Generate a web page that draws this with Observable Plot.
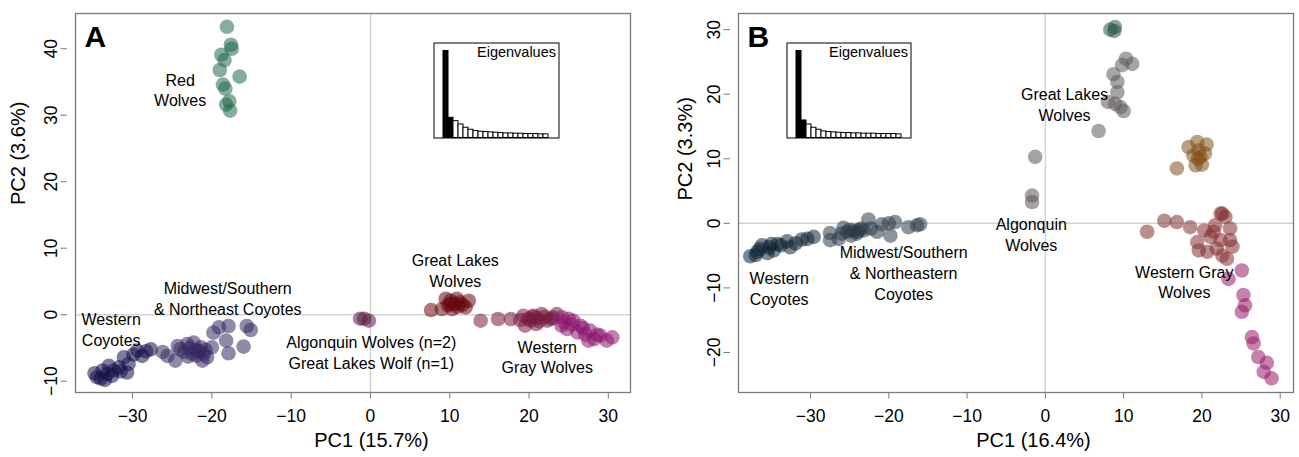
<!DOCTYPE html>
<html>
<head>
<meta charset="utf-8">
<script src="https://cdn.jsdelivr.net/npm/d3@7"></script>
<script src="https://cdn.jsdelivr.net/npm/@observablehq/plot@0.6"></script>
<style>
  body { margin: 0; background: #fff; }
  #wrap { position: relative; width: 1299px; height: 457px; font-family: "Liberation Sans", Arial, sans-serif; }
  .panel { position: absolute; top: 0; }
  .inset { position: absolute; }
</style>
</head>
<body>
<div id="wrap"></div>
<script>
// ---------- Panel A data (PC1, PC2) ----------
const redWolvesA = [[-18.1,43.3],[-17.6,40.6],[-17.5,40.0],[-18.8,39.1],[-18.4,38.3],[-19.0,36.8],[-16.5,35.8],[-18.6,34.6],[-18.3,34.0],[-17.8,32.1],[-18.2,31.6],[-17.7,30.7]];
const westernCoyotesA = [[-34.5,-9.4],[-34.0,-9.6],[-33.8,-8.4],[-33.2,-8.9],[-33.0,-7.7],[-32.6,-9.2],[-32.4,-8.4],[-31.7,-7.9],[-31.1,-6.4],[-30.5,-7.4],[-30.7,-8.7],[-29.4,-5.4],[-28.8,-6.2],[-27.7,-5.2],[-34.8,-8.8],[-33.5,-9.8],[-31.5,-8.5],[-29.9,-6.0],[-28.3,-5.5]];
const midwestCoyotesA = [[-25.6,-6.2],[-24.6,-6.9],[-24.3,-4.7],[-24.0,-5.2],[-23.5,-5.6],[-23.1,-4.4],[-22.5,-5.9],[-22.3,-4.2],[-21.9,-6.2],[-21.4,-4.9],[-21.2,-6.9],[-21.0,-5.9],[-20.6,-6.4],[-20.0,-4.9],[-22.8,-5.0],[-21.6,-5.5],[-20.8,-5.3],[-22.0,-5.3],[-23.0,-6.3],[-19.8,-2.7],[-19.1,-1.9],[-17.9,-1.7],[-18.2,-3.9],[-17.9,-5.8],[-16.0,-4.8],[-15.6,-1.7],[-15.1,-2.3],[-26.2,-5.6]];
const algonquinA = [[-1.3,-0.6],[-0.8,-0.6],[-0.2,-0.9]];
const greatLakesA = [[7.65,0.7],[9.0,0.85],[9.5,2.4],[10.1,2.1],[10.7,1.6],[11.3,1.85],[12.4,2.1],[12.0,1.1],[10.3,0.85],[10.1,1.6],[10.9,2.4],[11.0,1.2],[9.8,1.4],[11.6,1.5]];
const grayWolvesA1 = [[13.9,-0.9],[16.1,-0.65],[17.7,-0.65],[19.3,-0.15],[19.5,-1.65],[20.2,-0.9],[20.6,-0.15],[20.9,-1.4],[21.6,0.1],[22.3,-0.9],[22.8,-0.65],[23.5,0.1],[21.0,-0.5],[19.9,-0.6],[22.0,-0.3],[21.3,-1.0],[23.0,-0.4],[20.4,-0.3],[18.9,-0.8]];
const grayWolvesA2 = [[24.1,-1.65],[24.4,-1.15],[24.8,-2.15],[25.6,-0.9],[26.5,-1.65],[26.1,-2.65],[27.7,-2.4],[27.5,-3.9],[28.2,-3.65],[29.0,-3.15],[29.8,-3.9],[30.5,-3.4],[25.0,-0.6],[24.2,-0.4],[26.8,-2.0],[28.6,-3.0],[25.4,-1.5],[27.1,-3.0]];
const eigenA = [263,61,51,41,31,25,21,19,18,17,16,15,14,14,13,13,12,12,12,11,11];
const labelsA = [
  {text: "Red\nWolves", x: -24.0, y: 33.9},
  {text: "Midwest/Southern\n& Northeast Coyotes", x: -18.0, y: 2.5},
  {text: "Western\nCoyotes", x: -32.7, y: -2.15},
  {text: "Algonquin Wolves (n=2)\nGreat Lakes Wolf (n=1)", x: 0.1, y: -5.55},
  {text: "Great Lakes\nWolves", x: 10.7, y: 6.75},
  {text: "Western\nGray Wolves", x: 22.3, y: -6.25}
];

// ---------- Panel B data ----------
const westernCoyotesB = [[-37.7,-5.1],[-37.0,-4.9],[-36.8,-4.4],[-36.2,-3.4],[-35.5,-4.6],[-35.3,-3.7],[-35.0,-3.2],[-34.7,-4.2],[-34.2,-3.2],[-33.8,-3.4],[-33.0,-2.8],[-32.6,-3.7],[-31.9,-3.1],[-31.1,-2.5],[-30.4,-2.4],[-29.6,-2.1],[-36.5,-4.0]];
const midwestCoyotesB = [[-27.5,-1.5],[-27.5,-2.6],[-26.4,-2.4],[-26.0,-1.6],[-25.8,-0.7],[-25.3,-1.3],[-24.8,-1.9],[-24.5,-1.1],[-24.1,-1.6],[-23.8,-1.0],[-23.2,-1.1],[-22.6,0.6],[-22.3,-0.8],[-21.5,-1.3],[-20.9,-0.15],[-20.0,0],[-19.8,-1.9],[-19.2,0.2],[-17.5,-0.6],[-16.4,-0.3],[-16.0,-0.15],[-24.0,-1.3],[-23.5,-0.8],[-25.0,-1.0]];
const algonquinB = [[-1.3,10.3],[-1.7,4.3],[-1.7,3.3]];
const greatLakesTopB = [[8.3,30.0],[8.9,30.4],[8.8,29.8]];
const greatLakesB = [[10.3,25.5],[9.8,24.5],[11.1,24.7],[8.7,23.1],[9.2,21.9],[9.2,20.3],[8.0,18.8],[8.9,18.5],[9.6,18.0],[10.0,17.4],[6.8,14.3]];
const brownClusterB = [[18.3,11.8],[19.4,12.6],[20.6,12.2],[18.9,10.5],[19.8,10.3],[20.4,10.8],[19.2,9.0],[20.0,9.1],[16.8,8.5],[19.6,11.3],[19.5,10.0]];
const grayWolvesB1 = [[13.0,-1.3],[15.2,0.4],[16.8,0.2],[18.5,-0.6],[20.3,-1.1],[19.4,-2.9],[19.6,-4.2],[20.7,-4.4],[21.5,-1.3],[21.1,-2.1],[22.4,1.5],[23.0,1.0],[22.6,1.5],[21.7,-0.3],[23.6,-0.8],[22.4,-2.6],[23.6,-2.6],[21.9,-3.9],[22.6,-5.0],[23.2,-5.5],[23.9,-3.6]];
const grayWolvesB2 = [[25.1,-7.3],[23.4,-8.6],[25.3,-11.1],[25.5,-12.7],[25.1,-13.7],[26.4,-17.6],[26.6,-18.6],[27.2,-20.7],[28.3,-21.6],[27.9,-23.0],[28.9,-24.0]];
const eigenB = [263,53,41,31,25,20,18,17,16,15,15,14,14,13,13,13,12,12,12,12,11];
const labelsB = [
  {text: "Western\nCoyotes", x: -34.0, y: -10.0},
  {text: "Midwest/Southern\n& Northeastern\nCoyotes", x: -18.1, y: -7.6},
  {text: "Great Lakes\nWolves", x: 2.45, y: 18.5},
  {text: "Algonquin\nWolves", x: -1.8, y: -1.6},
  {text: "Western Gray\nWolves", x: 17.75, y: -9.0}
];

const FONT = "'Liberation Sans', Arial, Helvetica, sans-serif";

function toPoints(groups) {
  return groups.flatMap(([g, pts]) => pts.map(([x, y]) => ({x, y, g})));
}

function panel({points, colors, labels, xDomain, yDomain, xTicks, yTicks, width, mL, mR, letter, xTitle, yTitle, xTitleDx, yTitleDx, yTitleDy}) {
  return Plot.plot({
    width, height: 457,
    marginLeft: mL, marginRight: mR, marginTop: 13, marginBottom: 65,
    style: {fontFamily: FONT, background: "transparent", color: "black", overflow: "visible"},
    x: {domain: xDomain},
    y: {domain: yDomain},
    color: {domain: colors.map(d => d[0]), range: colors.map(d => d[1])},
    marks: [
      Plot.ruleX([0], {stroke: "#d4d4d4", strokeWidth: 1.5}),
      Plot.ruleY([0], {stroke: "#d4d4d4", strokeWidth: 1.5}),
      Plot.dot(points, {x: "x", y: "y", fill: "g", r: 7.3, fillOpacity: 0.55, stroke: null}),
      Plot.text(labels, {x: "x", y: "y", text: "text", fontSize: 16, lineHeight: 1.3, fill: "black"}),
      Plot.frame({stroke: "#7a7a7a", strokeWidth: 1.3}),
      Plot.axisX({ticks: xTicks, tickSize: 6.5, tickPadding: 11, fontSize: 17.5, stroke: "#7a7a7a", fill: "black", label: null}),
      Plot.axisY({ticks: yTicks, tickSize: 6.5, tickPadding: 4, dx: -8, fontSize: 17.5, stroke: "#7a7a7a", fill: "black", label: null, tickRotate: -90, textAnchor: "middle", lineAnchor: "bottom"}),
      Plot.text([letter], {text: d => d, frameAnchor: "top-left", dx: 9, dy: 12, lineAnchor: "top", fontSize: 30, fontWeight: "bold", textAnchor: "start"}),
      Plot.text([xTitle], {text: d => d, frameAnchor: "bottom", dx: xTitleDx, dy: 54, fontSize: 20}),
      Plot.text([yTitle], {text: d => d, frameAnchor: "left", dx: yTitleDx, dy: yTitleDy, rotate: -90, fontSize: 20})
    ]
  });
}

function inset(values, width, insetL, insetR) {
  const data = values.map((v, i) => ({i, v}));
  return Plot.plot({
    width, height: 96, margin: 0.5,
    style: {fontFamily: FONT, background: "white", overflow: "visible"},
    x: {type: "band", domain: data.map(d => d.i), padding: 0, axis: null, insetLeft: insetL, insetRight: insetR},
    y: {domain: [0, values[0] * 95 / 87], axis: null},
    marks: [
      Plot.barY(data, {x: "i", y: "v", fill: d => d.i < 2 ? "black" : "white", stroke: "black", strokeWidth: 1}),
      Plot.frame({stroke: "black", strokeWidth: 1}),
      Plot.text(["Eigenvalues"], {text: d => d, frameAnchor: "top-right", dx: -3, dy: 4, lineAnchor: "top", fontSize: 14.5, fill: "black"})
    ]
  });
}

const wrap = document.getElementById("wrap");

const A = panel({
  points: toPoints([["redA", redWolvesA], ["wcA", westernCoyotesA], ["mcA", midwestCoyotesA], ["alA", algonquinA], ["glA", greatLakesA], ["gwA1", grayWolvesA1], ["gwA2", grayWolvesA2]]),
  colors: [["redA", "#226a4c"], ["wcA", "#12104a"], ["mcA", "#35285e"], ["alA", "#5a1a45"], ["glA", "#680a0e"], ["gwA1", "#761a40"], ["gwA2", "#8c1670"]],
  labels: labelsA,
  xDomain: [-37.2, 32.8], yDomain: [-11.7, 45.3],
  xTicks: [-30, -20, -10, 0, 10, 20, 30], yTicks: [-10, 0, 10, 20, 30, 40],
  width: 650, mL: 75, mR: 20, letter: "A",
  xTitle: "PC1 (15.7%)", yTitle: "PC2 (3.6%)", xTitleDx: 18.5, yTitleDx: -57, yTitleDy: 2
});
A.classList.add("panel"); A.style.left = "0px";
wrap.appendChild(A);

const B = panel({
  points: toPoints([["wcB", westernCoyotesB], ["mcB", midwestCoyotesB], ["alB", algonquinB], ["gltB", greatLakesTopB], ["glB", greatLakesB], ["brB", brownClusterB], ["gwB1", grayWolvesB1], ["gwB2", grayWolvesB2]]),
  colors: [["wcB", "#0e2436"], ["mcB", "#2e3d48"], ["alB", "#5e5456"], ["gltB", "#2a5a48"], ["glB", "#5e5a5a"], ["brB", "#84501a"], ["gwB1", "#843032"], ["gwB2", "#981a68"]],
  labels: labelsB,
  xDomain: [-39.2, 31.7], yDomain: [-26.2, 32.5],
  xTicks: [-30, -20, -10, 0, 10, 20, 30], yTicks: [-20, -10, 0, 10, 20, 30],
  width: 649, mL: 88, mR: 6, letter: "B",
  xTitle: "PC1 (16.4%)", yTitle: "PC2 (3.3%)", xTitleDx: 17.5, yTitleDx: -53, yTitleDy: -2.5
});
B.classList.add("panel"); B.style.left = "650px";
wrap.appendChild(B);

const iA = inset(eigenA, 126, 4, 4.5);
iA.classList.add("inset"); iA.style.left = "433px"; iA.style.top = "42px";
wrap.appendChild(iA);

const iB = inset(eigenB, 125, 3.5, 3.5);
iB.classList.add("inset"); iB.style.left = "786px"; iB.style.top = "42px";
wrap.appendChild(iB);
</script>
</body>
</html>
